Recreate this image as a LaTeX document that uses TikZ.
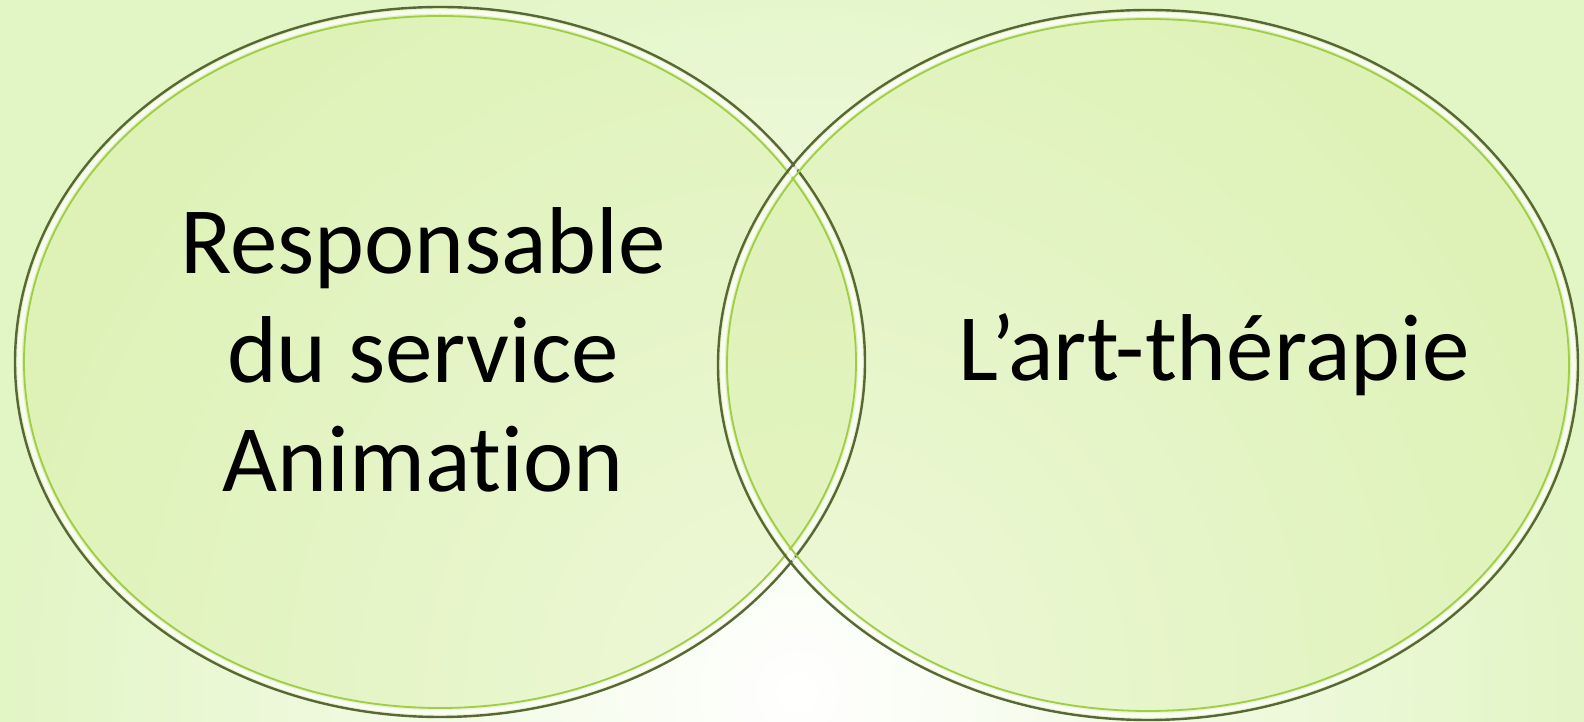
\documentclass[tikz,border=0pt]{standalone}
\usepackage{fontspec}
\setmainfont{Carlito}[Ligatures={NoCommon}]
\usetikzlibrary{positioning}
\definecolor{bggreen}{RGB}{226,245,196}
\definecolor{fillgreen}{RGB}{218,240,170}
\definecolor{rimdark}{RGB}{88,104,52}
\definecolor{rimgreen}{RGB}{160,205,70}
\tikzset{
vennfill/.style={fill=fillgreen, fill opacity=0.45},
rimouter/.style={draw=rimdark, line width=2.4pt},
rimshine/.style={draw=white, line width=4.5pt, opacity=0.8},
riminner/.style={draw=rimgreen, line width=1.8pt},
venntext/.style={font=\fontsize{95}{109}\selectfont, inner sep=0pt, align=center}}

\begin{document}
\begin{tikzpicture}[x=1pt,y=1pt]

                % background
                \begin{scope}
                    \clip (0,0) rectangle (1584,722);
                    \shade[inner color=white, outer color=bggreen] (-3,-770) rectangle (1597,830);
                \end{scope}
                \useasboundingbox (0,0) rectangle (1584,722);

                \coordinate (L) at (440,360);
                \coordinate (R) at (1148,357);

                \fill[vennfill] (L) ellipse [x radius=425, y radius=355];
                \fill[vennfill] (R) ellipse [x radius=430, y radius=355];

                \foreach \c/\rx/\ry in {L/425/355, R/430/355} {
                    \draw[riminner] (\c) ellipse [x radius=\rx-9, y radius=\ry-9];
                    \draw[rimshine] (\c) ellipse [x radius=\rx-4.5, y radius=\ry-4.5];
                    \draw[rimouter] (\c) ellipse [x radius=\rx, y radius=\ry];
                }

                \node[venntext] (resp) at (423,372) {Responsable\\du service\\Animation};
                \node[venntext, anchor=base] (art) at (1214,341) {L’art-thérapie};

            \end{tikzpicture}
\end{document}
